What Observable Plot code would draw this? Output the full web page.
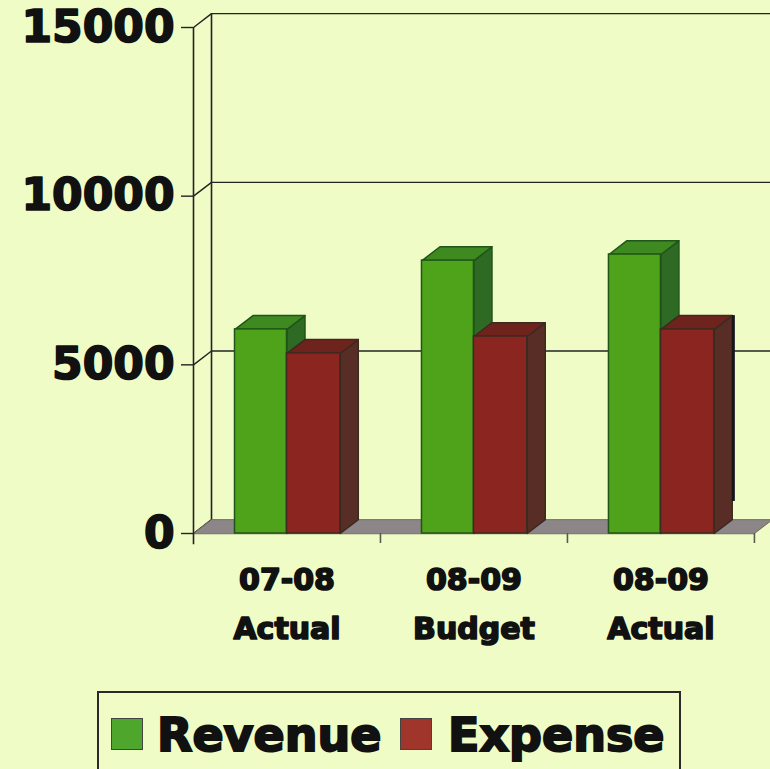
<!DOCTYPE html>
<html>
<head>
<meta charset="utf-8">
<script src="https://cdn.jsdelivr.net/npm/d3@7"></script>
<script src="https://cdn.jsdelivr.net/npm/@observablehq/plot@0.6"></script>
<style>
html,body{margin:0;padding:0;background:#effcc6;overflow:hidden;width:770px;height:769px}
#chart svg{display:block;background:transparent}
#chart svg text{stroke:#111;stroke-width:1.7px;stroke-linejoin:round}
#legend{position:absolute;left:97px;top:691px;width:580px;height:100px;border:2px solid #2a2a2a;box-sizing:content-box;
 font:bold 46px "DejaVu Sans";color:#111;-webkit-text-stroke:2px #111}
#legend span{position:absolute;top:9px;line-height:66px}
#legend i{position:absolute;top:25px;width:30px;height:30px;border:1px solid #444}
</style>
</head>
<body>
<div id="chart"></div>
<div id="legend"></div>
<script>
const categories = ["07-08\nActual", "08-09\nBudget", "08-09\nActual"];
const revenue = [6050, 8090, 8270];
const expense = [5340, 5840, 6050];
const yTicks = [0, 5000, 10000, 15000];
const seriesNames = ["Revenue", "Expense"];

const font = "DejaVu Sans";
const ink = "#232323";
const depthX = 0.0963, depthY = 410;
const xMax = 3.086;

const green = {front:"#4fa31b", top:"#3f8a20", side:"#2f6a25", edge:"#1f5518"};
const red = {front:"#8b2520", top:"#6f231d", side:"#572d25", edge:"#3d2a20"};

const poly = (pts, fill, stroke, sw = 1.5) =>
  Plot.line(pts, {x: d => d[0], y: d => d[1], fill, stroke, strokeWidth: sw, curve: "linear-closed"});

function bar(x1, x2, v, c) {
  return [
    poly([[x2,0],[x2+depthX,depthY],[x2+depthX,v+depthY],[x2,v]], c.side, c.edge),
    poly([[x1,v],[x1+depthX,v+depthY],[x2+depthX,v+depthY],[x2,v]], c.top, c.edge),
    Plot.rect([v], {x1: () => x1, x2: () => x2, y1: () => 0, y2: d => d, fill: c.front, stroke: c.edge, strokeWidth: 1.5})
  ];
}

const marks = [
  // walls
  Plot.ruleY(yTicks.slice(1), {y: d => d + depthY, x1: depthX, x2: xMax + depthX, stroke: ink, strokeWidth: 1.4}),
  Plot.ruleX([depthX], {y1: depthY, y2: 15000 + depthY, stroke: ink, strokeWidth: 1.6}),
  ...yTicks.map(v => Plot.line([[0, v], [depthX, v + depthY]], {stroke: ink, strokeWidth: 1.4})),
  // floor
  poly([[0,0],[depthX,depthY],[3+depthX,depthY],[3,0]], "#8d8688", "#6f6a5c", 1),
  // bars
  ...categories.flatMap((c, i) => [
    ...bar(i + 0.222, i + 0.5, revenue[i], green),
    ...bar(i + 0.5, i + 0.785, expense[i], red)
  ]),
  // dark scan edge behind the last bar
  Plot.ruleX([2.785 + depthX + 0.006], {y1: 950, y2: expense[2] + depthY, stroke: "#15151c", strokeWidth: 3}),
  // front axes
  Plot.axisY({ticks: yTicks, tickSize: 12, tickPadding: 7, label: null, stroke: ink, strokeWidth: 1.4,
    tickFormat: d3.format("d"), fontSize: 44, fontWeight: "bold", fontFamily: font, fill: "#111"}),
  Plot.ruleX([0], {y1: -330, y2: 15000, stroke: ink, strokeWidth: 1.6}),
  Plot.axisX({ticks: [1, 2, 3], tickSize: 10, label: null, tickFormat: () => "", stroke: "#5a5a50", strokeWidth: 1.6}),
  Plot.text(categories, {x: (d, i) => i + 0.5, y: 0, text: d => d, lineAnchor: "top", dy: 22, lineHeight: 1.63,
    fontSize: 30, fontWeight: "bold", fontFamily: font, fill: "#111", style: {letterSpacing: "1px"}})
];

const plot = Plot.plot({
  width: 770, height: 691,
  marginLeft: 193, marginRight: 0, marginTop: 27, marginBottom: 158,
  style: {background: "transparent", overflow: "hidden"},
  x: {domain: [0, xMax], axis: null},
  y: {domain: [0, 15000], axis: null},
  marks
});
document.getElementById("chart").append(plot);

const legend = document.getElementById("legend");
const swatchLeft = [12, 301], nameLeft = [58, 349], swatchColor = ["#4fa62c", "#a0352c"];
seriesNames.forEach((n, i) => {
  const sw = document.createElement("i");
  sw.style.left = swatchLeft[i] + "px";
  sw.style.background = swatchColor[i];
  const t = document.createElement("span");
  t.style.left = nameLeft[i] + "px";
  t.textContent = n;
  legend.append(sw, t);
});
</script>
</body>
</html>
